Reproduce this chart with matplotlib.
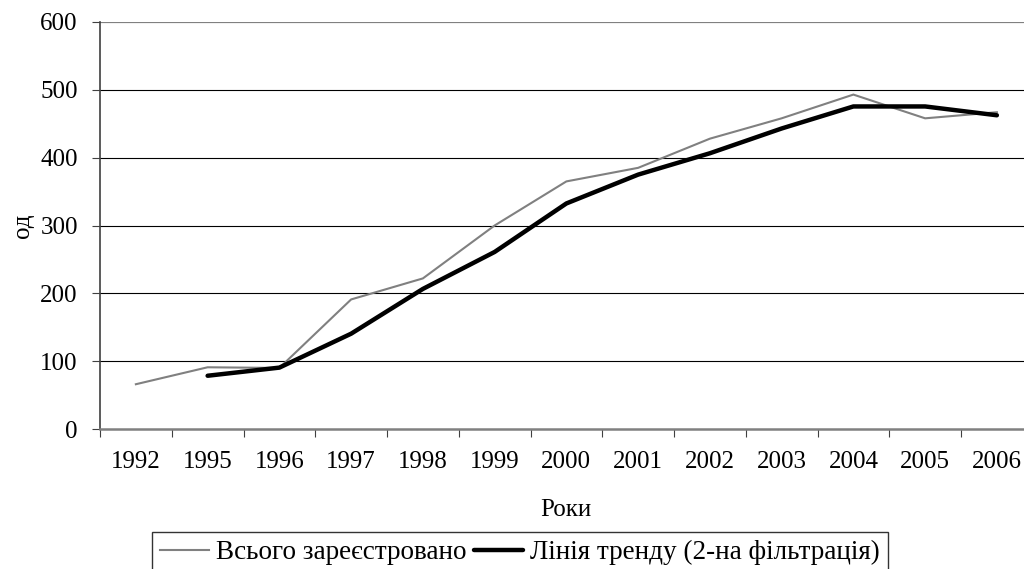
import matplotlib
matplotlib.use("Agg")
import matplotlib.pyplot as plt
import numpy as np

years = ["1992", "1995", "1996", "1997", "1998", "1999", "2000",
         "2001", "2002", "2003", "2004", "2005", "2006"]
total_registered = [66, 91, 90, 191, 222, 300, 365, 385, 428, 458, 493, 458, 467]
trend_years = ["1995", "1996", "1997", "1998", "1999", "2000",
               "2001", "2002", "2003", "2004", "2005", "2006"]
trend_values = [78.5, 90.5, 140.5, 206.5, 261, 332.5, 375, 406.5, 443, 475.5, 475.5, 462.5]
y_ticks = [0, 100, 200, 300, 400, 500, 600]

plt.rcParams['font.family'] = ['Liberation Serif', 'DejaVu Serif']
FS = 18
LFS = 19.5

W, H = 1024, 569
fig = plt.figure(figsize=(W / 100, H / 100), dpi=100)
left, right_px, top, bottom = 100, 100 + 13 * 71.75, 22, 429
aw, ah = right_px - left, bottom - top
ax = fig.add_axes([left / W, 1 - bottom / H, aw / W, ah / H])

x_all = np.arange(len(years))
idx = {y: i for i, y in enumerate(years)}
x_trend = [idx[y] for y in trend_years]

ax.plot(x_all, total_registered, color='#808080', lw=1.5, solid_joinstyle='miter',
        label='Всього зареєстровано', zorder=3)
ax.plot(x_trend, trend_values, color='black', lw=3.2, solid_capstyle='round',
        label='Лінія тренду (2-на фільтрація)', zorder=4)

ax.set_xlim(-0.5, len(years) - 0.5)
ax.set_ylim(0, 600)
ax.set_yticks(y_ticks)
ax.set_yticklabels([str(v) for v in y_ticks], fontsize=FS)
for v in y_ticks[1:-1]:
    ax.axhline(v, color='black', lw=0.8, zorder=1)
ax.axhline(600, color='#808080', lw=1.6, zorder=1)

ax.set_xticks(np.arange(-0.5, len(years), 1.0))
ax.set_xticklabels([])
ax.set_xticks(x_all, minor=True)
ax.set_xticklabels(years, minor=True, fontsize=FS)
ax.tick_params(axis='x', which='major', length=6, width=0.8, color='#404040', direction='out')
ax.tick_params(axis='x', which='minor', length=0, pad=16)
ax.tick_params(axis='y', length=6, width=0.8, color='#404040', direction='out', pad=10)

for s in ['top', 'right']:
    ax.spines[s].set_visible(False)
ax.spines['left'].set_color('#404040')
ax.spines['left'].set_linewidth(1.2)
ax.spines['bottom'].set_color('#808080')
ax.spines['bottom'].set_linewidth(1.8)

ax.set_ylabel('од', fontsize=FS)
ax.set_xlabel('Роки', fontsize=FS)
ax.xaxis.set_label_coords((566 - left) / aw, -(499 - bottom) / ah)
ax.yaxis.set_label_coords(-(left - 34) / aw, 0.5)

leg = fig.legend(loc='upper left', bbox_to_anchor=(152 / W, 1 - 532 / H), ncol=2,
                 fontsize=LFS, frameon=True, fancybox=False, handlelength=1.8,
                 handletextpad=0.25, columnspacing=0.3, borderpad=0.3, borderaxespad=0)
leg.get_frame().set_edgecolor('black')
leg.get_frame().set_linewidth(1.0)

fig.savefig('out.png', dpi=100)
